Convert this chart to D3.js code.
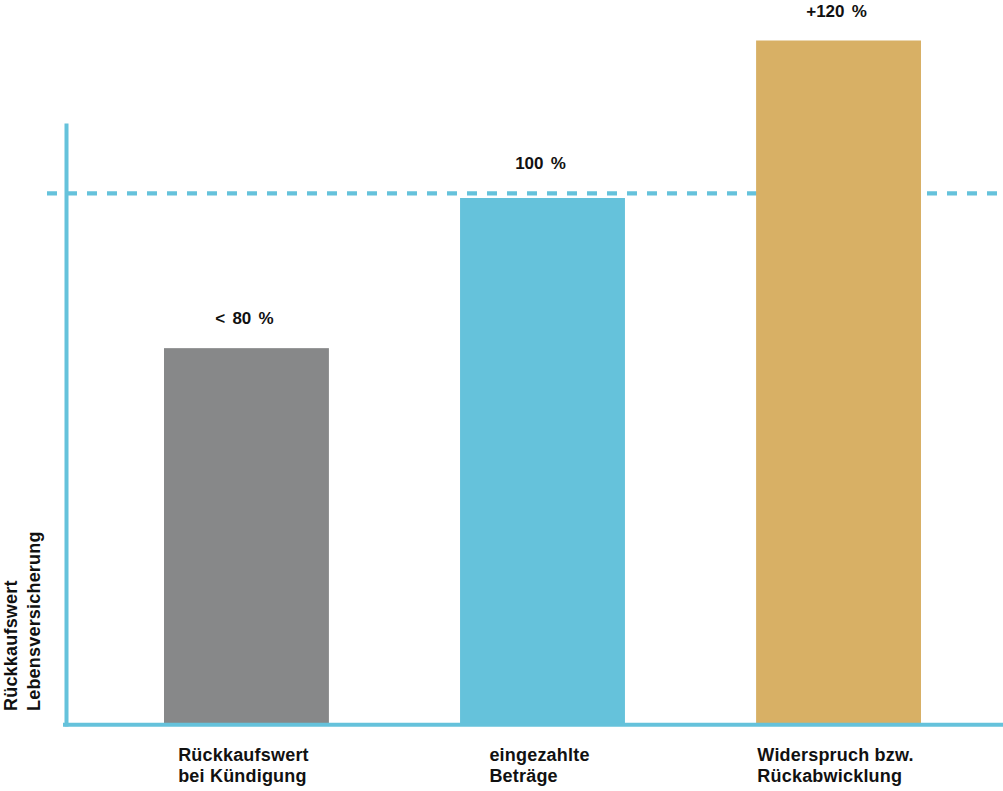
<!DOCTYPE html>
<html>
<head>
<meta charset="utf-8">
<script src="https://cdn.jsdelivr.net/npm/d3@7"></script>
<style>
  html, body { margin: 0; padding: 0; background: #ffffff; }
  svg { display: block; }
  text { font-family: "Liberation Sans", Arial, Helvetica, sans-serif; font-weight: bold; fill: #111111; }
</style>
</head>
<body>
<svg id="chart" width="1003" height="791"></svg>
<script>
// ---- data ----
const categories = ["Rückkaufswert bei Kündigung", "eingezahlte Beträge", "Widerspruch bzw. Rückabwicklung"];
const categoryLines = [["Rückkaufswert", "bei Kündigung"], ["eingezahlte", "Beträge"], ["Widerspruch bzw.", "Rückabwicklung"]];
const values = [71.4, 100, 130];
const valueLabels = ["< 80 %", "100 %", "+120 %"];
const barColors = ["#878889", "#65c2db", "#d8b065"];
const referenceValue = 100.9;
const axisMax = 114.3;
const yTitleLines = ["Rückkaufswert", "Lebensversicherung"];

// ---- layout ----
const W = 1003, H = 791;
const axisColor = "#65c2db";
const svg = d3.select("#chart");

const y = d3.scaleLinear().domain([0, 130]).range([723, 40.5]);
const x = d3.scaleBand().domain(categories).range([90, 995]).paddingInner(0.443).paddingOuter(0.25);
const axisX = 66;

// reference dashed line
svg.append("line")
  .attr("x1", 47).attr("x2", W)
  .attr("y1", y(referenceValue)).attr("y2", y(referenceValue))
  .attr("stroke", axisColor).attr("stroke-width", 4.2)
  .attr("stroke-dasharray", "10,10");

// bars
svg.selectAll("rect.bar").data(values).join("rect")
  .attr("class", "bar")
  .attr("x", (d, i) => x(categories[i]))
  .attr("width", x.bandwidth())
  .attr("y", d => y(d))
  .attr("height", d => y(0) - y(d))
  .attr("fill", (d, i) => barColors[i]);

// y axis (line only)
const yAxisScale = d3.scaleLinear().domain([0, axisMax]).range([y(0) + 3, y(axisMax)]);
const yAxisG = svg.append("g").attr("transform", `translate(${axisX},0)`)
  .call(d3.axisLeft(yAxisScale).tickValues([]).tickSizeOuter(0));
yAxisG.select(".domain").attr("stroke", axisColor).attr("stroke-width", 4);

// x baseline
svg.append("line")
  .attr("x1", axisX - 3).attr("x2", W)
  .attr("y1", y(0) + 1.8).attr("y2", y(0) + 1.8)
  .attr("stroke", axisColor).attr("stroke-width", 4);

// value labels
svg.selectAll("text.val").data(values).join("text")
  .attr("class", "val")
  .attr("x", (d, i) => x(categories[i]) + x.bandwidth() / 2 - 2)
  .attr("y", d => y(d > 90 && d < referenceValue + 5 ? Math.max(d, referenceValue) : d) - 24)
  .attr("text-anchor", "middle")
  .attr("font-size", 17)
  .attr("word-spacing", 2.5)
  .text((d, i) => valueLabels[i]);

// category labels (left-aligned block centered under bar)
categories.forEach((c, i) => {
  const g = svg.append("g");
  const t = g.append("text").attr("font-size", 18).attr("letter-spacing", 0.2);
  categoryLines[i].forEach((line, j) => {
    t.append("tspan").attr("x", 0).attr("y", 761 + j * 20.5).text(line);
  });
  const bw = t.node().getBBox().width;
  const cx = x(c) + x.bandwidth() / 2;
  g.attr("transform", `translate(${cx - bw / 2 - 3},0)`);
});

// y title
const yt = svg.append("text")
  .attr("transform", "translate(0,711) rotate(-90)")
  .attr("font-size", 18).attr("letter-spacing", 0.2);
yTitleLines.forEach((line, j) => {
  yt.append("tspan").attr("x", 0).attr("y", 16.5 + j * 23.5).text(line);
});
</script>
</body>
</html>
